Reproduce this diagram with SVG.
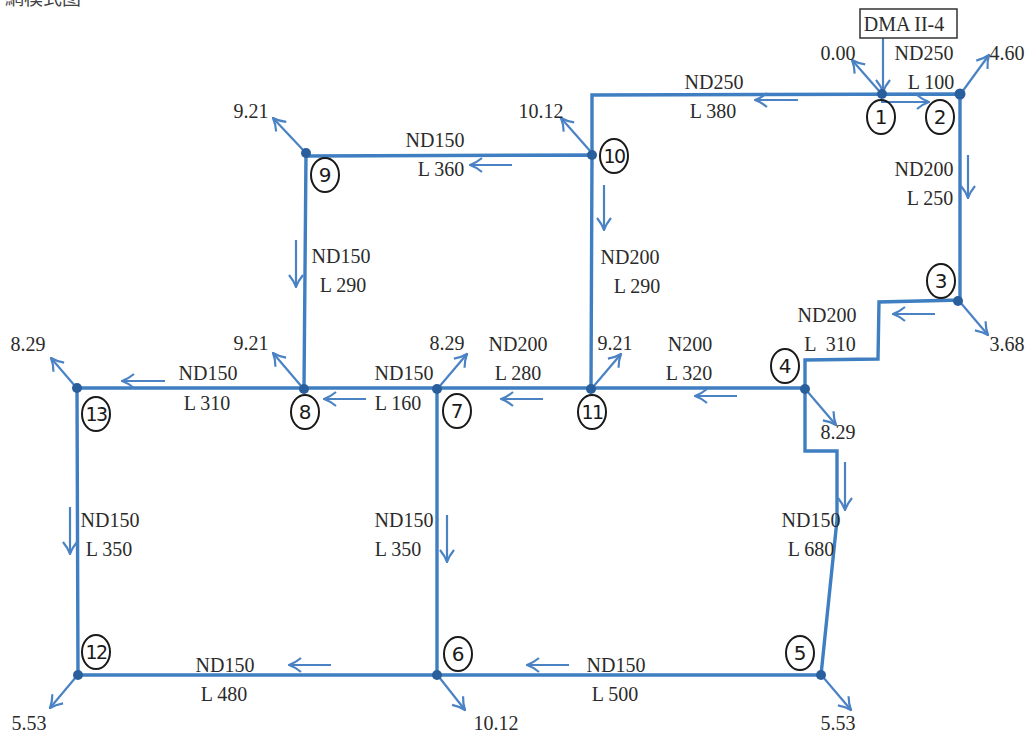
<svg xmlns="http://www.w3.org/2000/svg" width="1029" height="737" viewBox="0 0 1029 737">
<style>
text{font-family:"Liberation Serif","Noto Sans CJK SC",serif;font-size:20px;fill:#2b2b2b;text-anchor:middle}
.num{font-family:"DejaVu Sans",sans-serif;font-size:20px;fill:#1a1a1a}
.num2{letter-spacing:-1.5px;font-size:19px}
.pipe{fill:none;stroke:#3f7fc1;stroke-width:3.4;stroke-linejoin:miter}
.arr{fill:none;stroke:#4a82c4;stroke-width:2.2;marker-end:url(#ah)}
.dot{fill:#2a5f9e}
.ring{fill:none;stroke:#1a1a1a;stroke-width:2}
</style>
<defs>
<marker id="ah" viewBox="0 0 16 18" refX="15" refY="9" markerWidth="16" markerHeight="18" markerUnits="userSpaceOnUse" orient="auto">
<path d="M3 2 Q9 7 15 9 Q9 11 3 16" fill="none" stroke="#4a82c4" stroke-width="2.2"/>
</marker>
</defs>
<rect width="1029" height="737" fill="#fff"/>
<text x="43" y="5" style="font-family:'Noto Sans CJK SC',sans-serif;font-size:19px;fill:#444">網模式图</text>
<g id="connectors">
<path class="pipe" d="M592 155V95L960 94V300L879 302L878 359L805 360V451H837V520L821 675H78L77 388H805"/>
<path class="pipe" d="M306 156L592 155L591 389M306 153L304 389M437 389V675"/>
<path class="arr" d="M883 38V92"/>
<path class="arr" d="M880 92L852 60"/>
<path class="arr" d="M881 102H929"/>
<path class="arr" d="M962 92L989 55"/>
<path class="arr" d="M798 100H755"/>
<path class="arr" d="M968 155V198"/>
<path class="arr" d="M960 302L988 335"/>
<path class="arr" d="M935 314H893"/>
<path class="arr" d="M807 391L836 425"/>
<path class="arr" d="M845 462V510"/>
<path class="arr" d="M737 396H695"/>
<path class="arr" d="M593 387L621 354"/>
<path class="arr" d="M543 399H501"/>
<path class="arr" d="M439 387L467 354"/>
<path class="arr" d="M591 152L561 118"/>
<path class="arr" d="M604 185V230"/>
<path class="arr" d="M512 165H470"/>
<path class="arr" d="M304 151L273 118"/>
<path class="arr" d="M296 240V287"/>
<path class="arr" d="M302 387L273 353"/>
<path class="arr" d="M366 399H324"/>
<path class="arr" d="M165 381H122"/>
<path class="arr" d="M75 386L51 358"/>
<path class="arr" d="M70 507V554"/>
<path class="arr" d="M447 515V562"/>
<path class="arr" d="M331 665H289"/>
<path class="arr" d="M569 665H527"/>
<path class="arr" d="M76 677L50 708"/>
<path class="arr" d="M439 677L465 710"/>
<path class="arr" d="M823 677L851 710"/>
</g>
<g id="dma"><rect x="860" y="9" width="97" height="29" fill="#fff" stroke="#333" stroke-width="1.5"/><text x="904" y="31">DMA II-4</text></g>
<g id="n1"><circle class="dot" cx="882" cy="94" r="5"/><ellipse class="ring" cx="881" cy="117" rx="14" ry="17"/><text class="num" x="881" y="124">1</text></g>
<g id="n2"><circle class="dot" cx="960" cy="94" r="5.5"/><ellipse class="ring" cx="940" cy="117" rx="14" ry="17"/><text class="num" x="940" y="124">2</text></g>
<g id="n3"><circle class="dot" cx="958" cy="301" r="5"/><ellipse class="ring" cx="941" cy="281" rx="14" ry="17"/><text class="num" x="941" y="288">3</text></g>
<g id="n4"><circle class="dot" cx="805" cy="389" r="5"/><ellipse class="ring" cx="785" cy="366" rx="14" ry="17"/><text class="num" x="785" y="373">4</text></g>
<g id="n5"><circle class="dot" cx="821" cy="675" r="5"/><ellipse class="ring" cx="800" cy="653" rx="14" ry="17"/><text class="num" x="800" y="660">5</text></g>
<g id="n6"><circle class="dot" cx="437" cy="675" r="5"/><ellipse class="ring" cx="458" cy="654" rx="14" ry="17"/><text class="num" x="458" y="661">6</text></g>
<g id="n7"><circle class="dot" cx="437" cy="389" r="5"/><ellipse class="ring" cx="457" cy="411" rx="14" ry="17"/><text class="num" x="457" y="418">7</text></g>
<g id="n8"><circle class="dot" cx="304" cy="389" r="5"/><ellipse class="ring" cx="305" cy="412" rx="14" ry="17"/><text class="num" x="305" y="419">8</text></g>
<g id="n9"><circle class="dot" cx="306" cy="153" r="5"/><ellipse class="ring" cx="325" cy="175" rx="14" ry="17"/><text class="num" x="325" y="182">9</text></g>
<g id="n10"><circle class="dot" cx="592" cy="155" r="5"/><ellipse class="ring" cx="614" cy="156" rx="14" ry="17"/><text class="num num2" x="614" y="163">10</text></g>
<g id="n11"><circle class="dot" cx="591" cy="389" r="5"/><ellipse class="ring" cx="592" cy="412" rx="14" ry="17"/><text class="num num2" x="592" y="419">11</text></g>
<g id="n12"><circle class="dot" cx="78" cy="675" r="5"/><ellipse class="ring" cx="96" cy="652" rx="14" ry="17"/><text class="num num2" x="96" y="659">12</text></g>
<g id="n13"><circle class="dot" cx="77" cy="388" r="5"/><ellipse class="ring" cx="96" cy="414" rx="14" ry="17"/><text class="num num2" x="96" y="421">13</text></g>
<g id="labels">
<text x="838" y="60">0.00</text><text x="924" y="60">ND250</text><text x="931" y="89">L 100</text><text x="1007" y="60">4.60</text>
<text x="714" y="89">ND250</text><text x="713" y="118">L 380</text>
<text x="541" y="118">10.12</text><text x="251" y="118">9.21</text>
<text x="435" y="147">ND150</text><text x="441" y="176">L 360</text>
<text x="924" y="176">ND200</text><text x="930" y="205">L 250</text>
<text x="341" y="263">ND150</text><text x="343" y="292">L 290</text>
<text x="630" y="264">ND200</text><text x="637" y="293">L 290</text>
<text x="827" y="322">ND200</text><text x="830" y="351" xml:space="preserve">L  310</text><text x="1007" y="351">3.68</text>
<text x="251" y="350">9.21</text><text x="447" y="350">8.29</text><text x="518" y="351">ND200</text><text x="615" y="350">9.21</text><text x="690" y="351">N200</text><text x="28" y="351">8.29</text>
<text x="208" y="380">ND150</text><text x="404" y="380">ND150</text><text x="518" y="380">L 280</text><text x="689" y="380">L 320</text>
<text x="207" y="410">L 310</text><text x="398" y="410">L 160</text><text x="838" y="439">8.29</text>
<text x="110" y="527">ND150</text><text x="404" y="527">ND150</text><text x="811" y="527">ND150</text>
<text x="109" y="556">L 350</text><text x="398" y="556">L 350</text><text x="811" y="556">L 680</text>
<text x="225" y="672">ND150</text><text x="616" y="672">ND150</text>
<text x="224" y="701">L 480</text><text x="615" y="701">L 500</text>
<text x="29" y="730">5.53</text><text x="496" y="730">10.12</text><text x="838" y="730">5.53</text>
</g>
</svg>
